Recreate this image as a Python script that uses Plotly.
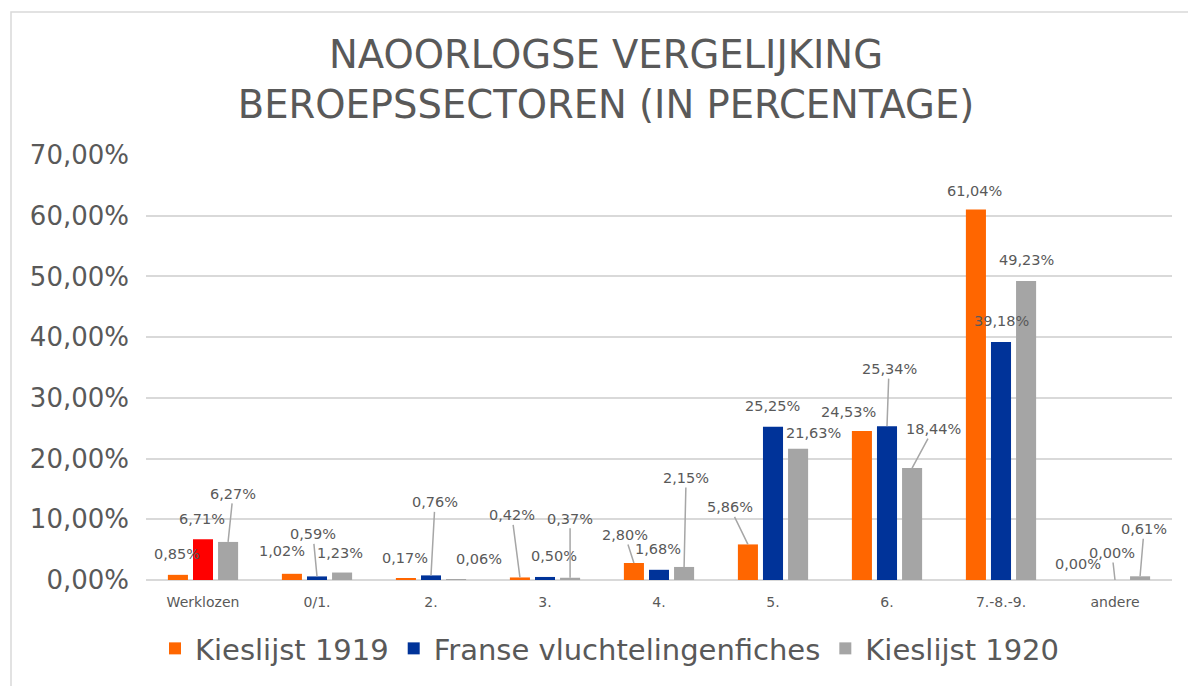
import plotly.graph_objects as go

# Occupational sectors (categories on the x axis)
categories = ["Werklozen", "0/1.", "2.", "3.", "4.", "5.", "6.", "7.-8.-9.", "andere"]

# Share per sector, in percent
kieslijst_1919 = [0.85, 1.02, 0.17, 0.42, 2.80, 5.86, 24.53, 61.04, 0.00]
franse_vluchtelingenfiches = [6.71, 0.59, 0.76, 0.50, 1.68, 25.25, 25.34, 39.18, 0.00]
kieslijst_1920 = [6.27, 1.23, 0.06, 0.37, 2.15, 21.63, 18.44, 49.23, 0.61]

series_names = ["Kieslijst 1919", "Franse vluchtelingenfiches", "Kieslijst 1920"]
series_values = [kieslijst_1919, franse_vluchtelingenfiches, kieslijst_1920]

y_ticks = [0, 10, 20, 30, 40, 50, 60, 70]

# ---- styling -------------------------------------------------------------
FONT = "DejaVu Sans"
TEXT = "#595959"
GRID = "#D9D9D9"
LEADER = "#A6A6A6"
series_colors = ["#FF6600", "#003399", "#A5A5A5"]
# the unemployed bar of the refugee records is highlighted in red
point_colors = [
    [series_colors[0]] * len(categories),
    ["#FF0000"] + [series_colors[1]] * (len(categories) - 1),
    [series_colors[2]] * len(categories),
]

W, H = 1188, 686
M_L, M_R, M_T, M_B = 146, 16, 155, 103
BARGAP, GROUPGAP = 0.34, 0.2
plot_w = W - M_L - M_R
plot_h = H - M_T - M_B
slot_px = plot_w / len(categories) * (1 - BARGAP) / 3

# label offsets (dx, dy in px from the bar top) and whether a leader line is drawn
label_layout = [
    [(-1, -21, 0), (-10, -23, 0), (-1, -21, 0), (-8, -62, 1), (-9, -28, 1),
     (-18, -37, 1), (-13, -19, 0), (-1, -18, 0), (-12, -16, 0)],
    [(-1, -20, 0), (-4, -42, 1), (4, -73, 1), (9, -21, 0), (-1, -21, 0),
     (-1, -21, 0), (2, -57, 1), (0, -21, 0), (-3, -27, 1)],
    [(5, -48, 1), (-2, -20, 0), (23, -21, 0), (0, -59, 1), (2, -89, 1),
     (15, -16, 0), (21, -39, 1), (0, -21, 0), (4, -47, 1)],
]


def pct(v):
    return f"{v:.2f}".replace(".", ",") + "%"


fig = go.Figure()
groups = ["g1", "g2", "g3"]
for k, (name, vals) in enumerate(zip(series_names, series_values)):
    fig.add_trace(go.Bar(
        name=name, x=categories, y=vals, offsetgroup=groups[k],
        marker=dict(color=point_colors[k], line=dict(width=0)),
        showlegend=False, legendgroup=name,
        hovertemplate="%{x}: %{y:.2f}%<extra>" + name + "</extra>",
    ))
    # legend entry in the plain series colour
    fig.add_trace(go.Bar(
        name=name, x=[None], y=[None], offsetgroup=groups[k],
        marker=dict(color=series_colors[k], line=dict(width=0)),
        showlegend=True, legendgroup=name, legendrank=k + 1, hoverinfo="skip",
    ))

annotations = []
for k, vals in enumerate(series_values):
    shift = (k - 1) * slot_px
    for i, v in enumerate(vals):
        dx, dy, leader = label_layout[k][i]
        annotations.append(dict(
            x=categories[i], y=v, xref="x", yref="y", xshift=shift,
            text=pct(v), showarrow=True, ax=dx, ay=dy,
            arrowhead=0, arrowwidth=1.5, standoff=0, startstandoff=0,
            arrowcolor=LEADER if leader else "rgba(0,0,0,0)",
            font=dict(family=FONT, size=14.5, color=TEXT),
        ))

# outer chart frame
px2x = lambda px: (px - M_L) / plot_w
py2y = lambda py: (H - M_B - py) / plot_h
shapes = [dict(type="rect", xref="paper", yref="paper",
               x0=px2x(11), x1=px2x(1210), y0=py2y(720), y1=py2y(11),
               line=dict(color=GRID, width=1.5), fillcolor="rgba(0,0,0,0)",
               layer="below")]

fig.update_layout(
    width=W, height=H,
    margin=dict(l=M_L, r=M_R, t=M_T, b=M_B),
    paper_bgcolor="white", plot_bgcolor="white",
    barmode="group", bargap=BARGAP, bargroupgap=GROUPGAP,
    title=dict(
        text="NAOORLOGSE VERGELIJKING<br>BEROEPSSECTOREN (IN PERCENTAGE)",
        x=606 / W, xref="container", xanchor="center",
        y=1 - 68 / H, yref="container", yanchor="middle",
        font=dict(family=FONT, size=38.5, color=TEXT),
    ),
    font=dict(family=FONT, color=TEXT),
    showlegend=True,
    legend=dict(
        orientation="h", x=px2x(610), xanchor="center", y=py2y(652), yanchor="middle",
        font=dict(family=FONT, size=29, color=TEXT),
        traceorder="normal",
    ),
    annotations=annotations,
    shapes=shapes,
)

fig.update_xaxes(
    type="category", showgrid=False, showline=False, zeroline=False,
    ticks="", tickfont=dict(family=FONT, size=14, color=TEXT),
    ticklabelstandoff=12,
)
fig.update_yaxes(
    range=[0, 70], tickvals=y_ticks, ticktext=[pct(t) for t in y_ticks],
    showgrid=True, gridcolor=GRID, gridwidth=2,
    zeroline=True, zerolinecolor=GRID, zerolinewidth=2,
    showline=False, ticks="",
    tickfont=dict(family=FONT, size=26, color=TEXT),
    ticklabelstandoff=16,
)

fig.write_html("out.html")
